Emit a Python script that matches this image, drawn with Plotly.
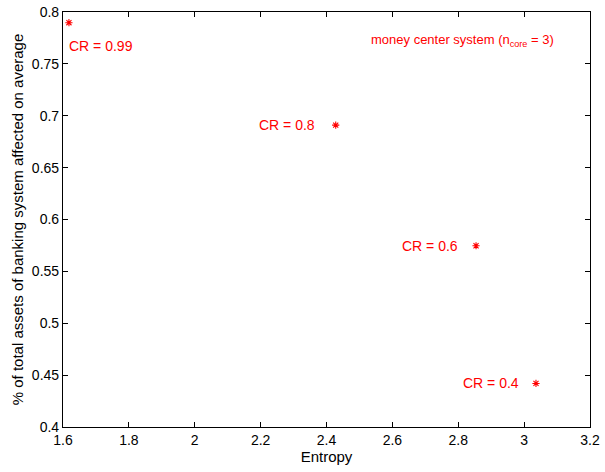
import plotly.graph_objects as go

# Data
entropy = [1.618, 2.428, 2.854, 3.036]
affected = [0.7897, 0.691, 0.5747, 0.442]
cr_labels = ["CR = 0.99", "CR = 0.8", "CR = 0.6", "CR = 0.4"]

x_ticks = [1.6, 1.8, 2.0, 2.2, 2.4, 2.6, 2.8, 3.0, 3.2]
x_tick_text = ["1.6", "1.8", "2", "2.2", "2.4", "2.6", "2.8", "3", "3.2"]
y_ticks = [0.4, 0.45, 0.5, 0.55, 0.6, 0.65, 0.7, 0.75, 0.8]
y_tick_text = ["0.4", "0.45", "0.5", "0.55", "0.6", "0.65", "0.7", "0.75", "0.8"]

red = "#ff0000"
font_family = "Liberation Sans, Arial, sans-serif"

fig = go.Figure()
fig.add_trace(go.Scatter(x=entropy, y=affected, mode="markers",
                         marker=dict(symbol="asterisk-open", size=6, color=red,
                                     line=dict(color=red, width=1.1)),
                         showlegend=False))

# Point labels (positions relative to each point)
label_pos = [
    dict(x=entropy[0] - 0.006, y=affected[0] - 0.022, xanchor="left"),
    dict(x=entropy[1] - 0.057, y=affected[1], xanchor="right"),
    dict(x=entropy[2] - 0.049, y=affected[2], xanchor="right"),
    dict(x=entropy[3] - 0.045, y=affected[3], xanchor="right"),
]
for lab, pos in zip(cr_labels, label_pos):
    fig.add_annotation(x=pos["x"], y=pos["y"], text=lab, showarrow=False,
                       xanchor=pos["xanchor"], yanchor="middle",
                       font=dict(color=red, size=14, family=font_family))

fig.add_annotation(x=2.529, y=0.773, text="money center system (n<sub>core</sub> = 3)",
                   showarrow=False, xanchor="left", yanchor="middle",
                   font=dict(color=red, size=13, family=font_family))

axis_common = dict(showline=True, linecolor="black", linewidth=1.2, mirror="ticks",
                   ticks="inside", ticklen=5, tickcolor="black", showgrid=False,
                   zeroline=False, automargin=False, ticklabeloverflow="allow",
                   tickfont=dict(size=14, color="black", family=font_family))

fig.update_xaxes(range=[1.6, 3.2], tickvals=x_ticks, ticktext=x_tick_text,
                 title=dict(text="Entropy", standoff=2,
                            font=dict(size=15, color="black", family=font_family)),
                 **axis_common)
fig.update_yaxes(range=[0.4, 0.8], tickvals=y_ticks, ticktext=y_tick_text,
                 title=dict(text="% of total assets of banking system affected on average", standoff=4,
                            font=dict(size=15, color="black", family=font_family)),
                 **axis_common)

fig.update_layout(width=605, height=472, margin=dict(l=63, r=15, t=12, b=45),
                  plot_bgcolor="white", paper_bgcolor="white")

# drop the default 8px body margin so the figure fills the window
fig.write_html("out.html", config={"displayModeBar": False},
               post_script="document.body.style.margin='0';")
